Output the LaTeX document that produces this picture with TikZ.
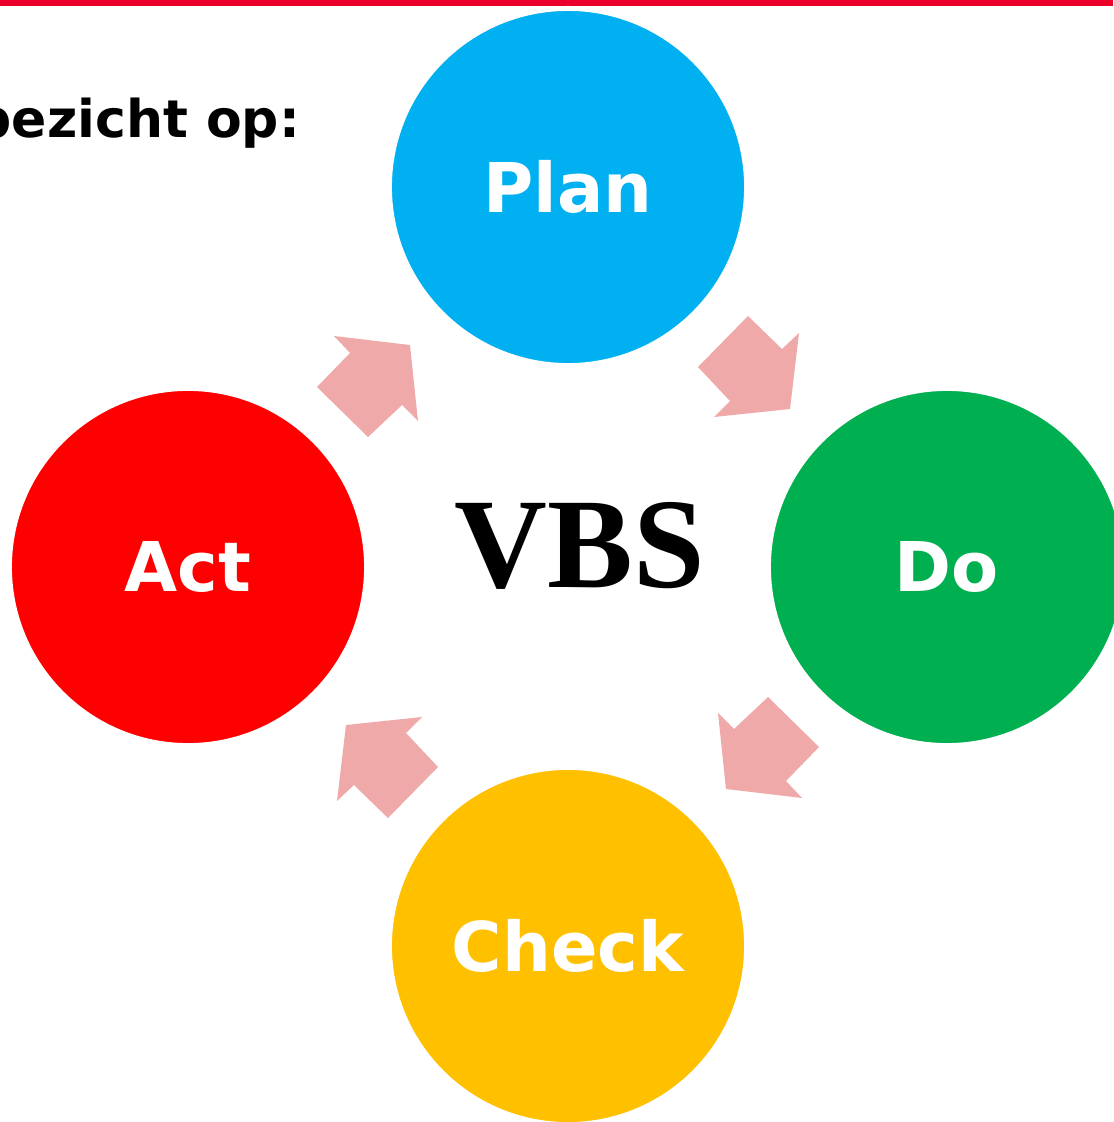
\documentclass[tikz,border=0pt]{standalone}
\usepackage{fontspec}
\usepackage{xcolor}
\usepackage{tikz}

\newfontfamily\lblfont{DejaVu Sans}
\newfontfamily\vbsfont{Liberation Serif}

\definecolor{planblue}{RGB}{0,176,240}
\definecolor{dogreen}{RGB}{0,176,80}
\definecolor{checkyellow}{RGB}{255,192,0}
\definecolor{actred}{RGB}{255,0,0}
\definecolor{arrowpink}{RGB}{240,169,169}
\definecolor{barred}{RGB}{234,0,41}

\tikzset{
  phase/.style={circle, draw=white, line width=3.5pt, minimum size=8.925cm, inner sep=0pt,
    text=white, font=\lblfont\bfseries\fontsize{48.8}{58}\selectfont},
  cyclearrow/.style={fill=arrowpink}
}

\begin{document}
\begin{tikzpicture}[x=0.025cm, y=-0.025cm]
            \useasboundingbox (0,0) rectangle (1113,1122);
            % Top bar
            \fill[barred] (0,0) rectangle (1113,6.5);

            % Nodes
            \node[anchor=base east, font=\lblfont\bfseries\fontsize{37}{44}\selectfont] (intro) at (305,138) {bezicht op:};
            \node[phase, fill=planblue] (plan) at (568,187) {Plan};
            \node[phase, fill=dogreen] (do) at (947,567) {Do};
            \node[phase, fill=checkyellow] (check) at (568,946) {Check};
            \node[phase, fill=actred] (act) at (188,567) {Act};
            \coordinate (c) at (568,567);
            \node[anchor=base, font=\vbsfont\bfseries\fontsize{91.4}{100}\selectfont] (vbs) at (580,587) {VBS};

            % Arrows
            \fill[cyclearrow] (334,336) -- (410,345) -- (418,421) -- (402,405) -- (368,437) -- (317,387) -- (350,353) -- cycle;
            \fill[cyclearrow, rotate around={-90:(c)}] (334,336) -- (410,345) -- (418,421) -- (402,405) -- (368,437) -- (317,387) -- (350,353) -- cycle;
            \fill[cyclearrow, rotate around={-180:(c)}] (334,336) -- (410,345) -- (418,421) -- (402,405) -- (368,437) -- (317,387) -- (350,353) -- cycle;
            \fill[cyclearrow, rotate around={90:(c)}] (334,336) -- (410,345) -- (418,421) -- (402,405) -- (368,437) -- (317,387) -- (350,353) -- cycle;
        \end{tikzpicture}
\end{document}
